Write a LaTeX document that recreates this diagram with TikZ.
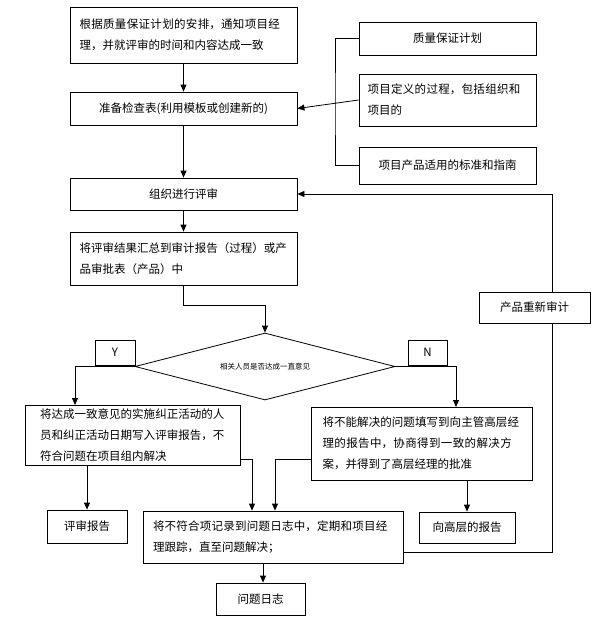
\documentclass[tikz,border=0pt]{standalone}
\usepackage{fontspec}
\setmainfont{Noto Sans CJK SC}
\XeTeXlinebreaklocale "zh"
\XeTeXlinebreakskip=0pt plus 1pt
\usetikzlibrary{arrows.meta,shapes.geometric}
\begin{document}
\begin{tikzpicture}[x=1pt,y=-1pt,
  box/.style={draw,line width=0.8pt,inner sep=0pt,font=\fontsize{11.5}{21}\selectfont},
  arr/.style={line width=0.8pt,-{Triangle[length=7pt,width=6pt]}},
  ln/.style={line width=0.8pt}]
\useasboundingbox (0,0) rectangle (611,629);
\fill[white] (0,0) rectangle (611,629);
\node[box,minimum width=227pt,minimum height=56pt,align=left,text width=208pt] (n1) at (183.5,35) {根据质量保证计划的安排，通知项目经理，并就评审的时间和内容达成一致};
\node[box,minimum width=227pt,minimum height=33pt] (n2) at (183.5,108.5) {准备检查表(利用模板或创建新的)};
\node[box,minimum width=177pt,minimum height=33pt] (r1) at (447.5,38.5) {质量保证计划};
\node[box,minimum width=177pt,minimum height=52pt,align=left,text width=160pt] (r2) at (447.5,100) {项目定义的过程，包括组织和项目的};
\node[box,minimum width=177pt,minimum height=37pt] (r3) at (447.5,165.5) {项目产品适用的标准和指南};
\node[box,minimum width=227pt,minimum height=32pt] (n4) at (183.5,194) {组织进行评审};
\node[box,minimum width=227pt,minimum height=53pt,align=left,text width=208pt] (n5) at (183.5,258.5) {将评审结果汇总到审计报告（过程）或产品审批表（产品）中};
\node[draw,line width=0.8pt,diamond,aspect=3.9,minimum width=260pt,minimum height=67pt,inner sep=0pt,font=\fontsize{7.5}{8}\selectfont] (d) at (265,366.5) {相关人员是否达成一直意见};
\node[box,minimum width=40pt,minimum height=25pt] (y) at (115,352.5) {Y};
\node[box,minimum width=39pt,minimum height=25pt] (nn) at (427.5,352.5) {N};
\node[box,minimum width=215pt,minimum height=60pt,align=left,text width=185pt] (lb) at (132.5,435) {将达成一致意见的实施纠正活动的人员和纠正活动日期写入评审报告，不符合问题在项目组内解决};
\node[box,minimum width=221pt,minimum height=73pt,align=left,text width=198pt] (rb) at (421.5,443.5) {将不能解决的问题填写到向主管高层经理的报告中，协商得到一致的解决方案，并得到了高层经理的批准};
\node[box,minimum width=80pt,minimum height=33pt] (rep) at (87,526.5) {评审报告};
\node[box,minimum width=96pt,minimum height=31pt] (hi) at (467,527.5) {向高层的报告};
\node[box,minimum width=260pt,minimum height=52pt,align=left,text width=240pt] (mid) at (273,537) {将不符合项记录到问题日志中，定期和项目经理跟踪，直至问题解决；};
\node[box,minimum width=89pt,minimum height=32pt] (log) at (260.5,599) {问题日志};
\node[box,minimum width=111pt,minimum height=31pt] (re) at (534.5,307.5) {产品重新审计};
\draw[arr] (n1) -- (n2);
\draw[arr] (n2) -- (n4);
\draw[arr] (n4) -- (n5);
\draw[arr] (n5.south) -- (183.5,305) -| (d.north);
\draw[ln] (r1.west) -| (335,106) |- (r3.west);
\draw[arr] (r2.west) -- (n2.east);
\draw[arr] (d.west) -| (75,405);
\draw[arr] (d.east) -| (456,407);
\draw[arr] (rep.north |- lb.south) -- (rep.north);
\draw[arr] (hi.north |- rb.south) -- (hi.north);
\draw[arr] (lb.east |- 0,459) -| (mid.north -| 252,0);
\draw[arr] (rb.west |- 0,459) -| (mid.north -| 275,0);
\draw[arr] (mid.south -| 263,0) -- (log.north -| 263,0);
\draw[ln] (mid.east |- 0,552) -- (552,552) -- (re.south -| 552,0);
\draw[arr] (re.north -| 552,0) |- (n4.east);
\end{tikzpicture}
\end{document}
